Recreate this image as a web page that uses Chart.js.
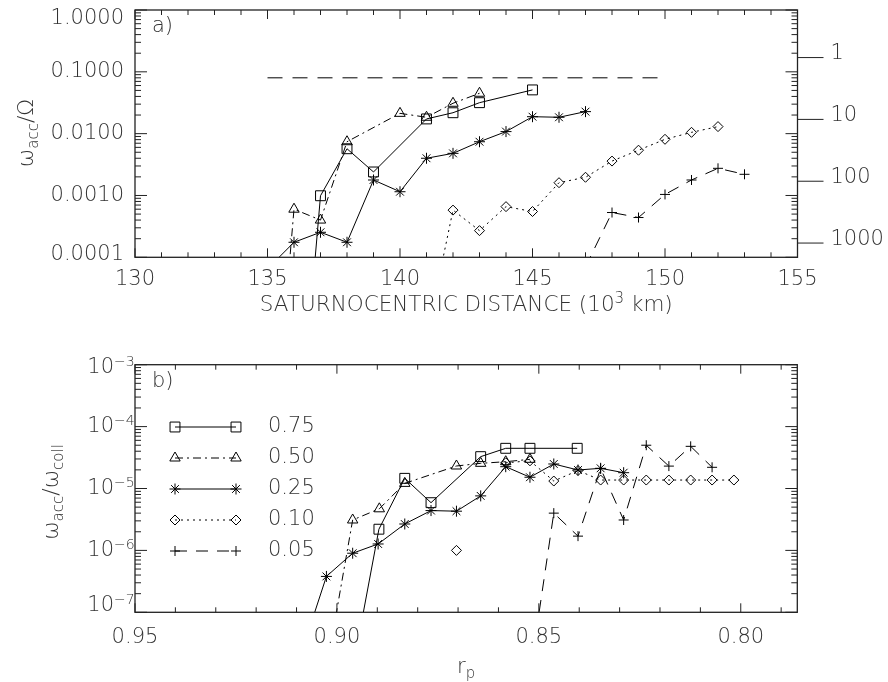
<!DOCTYPE html>
<html>
<head>
<meta charset="utf-8">
<script src="https://cdn.jsdelivr.net/npm/chart.js@4.4.0/dist/chart.umd.min.js"></script>
<style>
html, body { margin: 0; padding: 0; background: #fff; }
#wrap { position: relative; width: 888px; height: 682px; }
#topChart { position: absolute; left: 0; top: 0; }
#botChart { position: absolute; left: 0; top: 340px; }
</style>
</head>
<body>
<div id="wrap">
  <canvas id="topChart" width="888" height="340"></canvas>
  <canvas id="botChart" width="888" height="342"></canvas>
</div>
<script>
// ---- panel a) data : saturnocentric distance (10^3 km) vs w_acc / Omega
var limitDist = [135, 150];
var limitVal = [0.08, 0.08];

var dist75 = [136, 137, 138, 139, 141, 142, 143, 145];
var top75 = [1e-8, 0.00099, 0.0057, 0.0024, 0.0173, 0.0218, 0.0317, 0.051];

var dist50 = [135, 136, 137, 138, 140, 141, 142, 143];
var top50 = [5e-9, 0.0006, 0.0004, 0.0074, 0.0213, 0.0184, 0.031, 0.045];

var dist25 = [135, 136, 137, 138, 139, 140, 141, 142, 143, 144, 145, 146, 147];
var top25 = [6.5e-5, 0.000175, 0.000254, 0.000175, 0.00178, 0.00115, 0.0040, 0.0048, 0.0074, 0.0108, 0.0188, 0.0184, 0.0227];

var dist10 = [141, 142, 143, 144, 145, 146, 147, 148, 149, 150, 151, 152];
var top10 = [5e-6, 0.00058, 0.00027, 0.00066, 0.00055, 0.00161, 0.00197, 0.0036, 0.0054, 0.0081, 0.0105, 0.013];

var dist05 = [147, 148, 149, 150, 151, 152, 153];
var top05 = [7e-5, 0.00053, 0.00044, 0.00104, 0.00178, 0.00275, 0.0022];

// ---- panel b) data : r_p vs w_acc / w_coll
var rp75 = [0.8961, 0.8896, 0.8832, 0.8767, 0.8644, 0.8582, 0.8522, 0.8405];
var bot75 = [1.2e-8, 2.2e-6, 1.46e-5, 5.9e-6, 3.27e-5, 4.46e-5, 4.46e-5, 4.46e-5];

var rp50 = [0.9026, 0.8961, 0.8895, 0.8832, 0.8704, 0.8644, 0.8582, 0.8522];
var bot50 = [1.2e-8, 3.1e-6, 4.7e-6, 1.21e-5, 2.31e-5, 2.55e-5, 2.71e-5, 2.96e-5];

var rp25 = [0.9090, 0.9026, 0.8961, 0.8898, 0.8832, 0.8767, 0.8704, 0.8644, 0.8582, 0.8522, 0.8463, 0.8403, 0.8347, 0.8290];
var bot25 = [2e-8, 3.8e-7, 9e-7, 1.27e-6, 2.67e-6, 4.4e-6, 4.3e-6, 7.6e-6, 2.25e-5, 1.52e-5, 2.49e-5, 1.99e-5, 2.12e-5, 1.8e-5];

var rp10 = [0.8704, 0.8644, 0.8582, 0.8522, 0.8463, 0.8403, 0.8347, 0.8290, 0.8234, 0.8178, 0.8124, 0.8071, 0.8017];
var bot10 = [1.0e-6, null, 2.6e-5, 2.8e-5, 1.32e-5, 1.95e-5, 1.37e-5, 1.37e-5, 1.37e-5, 1.37e-5, 1.37e-5, 1.37e-5, 1.37e-5];

var rp05 = [0.8522, 0.8463, 0.8403, 0.8347, 0.8290, 0.8234, 0.8178, 0.8124, 0.8071];
var bot05 = [1e-8, 4.0e-6, 1.7e-6, 2.1e-5, 3.1e-6, 5.0e-5, 2.3e-5, 4.8e-5, 2.2e-5];

// ---- ticks / labels
var topXTicks = [130, 135, 140, 145, 150, 155];
var topYTicks = [1, 0.1, 0.01, 0.001, 0.0001];
var topYLabels = ['1.0000', '0.1000', '0.0100', '0.0010', '0.0001'];
var rightTicks = [1, 10, 100, 1000];
var botXTicks = [0.95, 0.90, 0.85, 0.80];
var botXLabels = ['0.95', '0.90', '0.85', '0.80'];
var botYExp = [-3, -4, -5, -6, -7];
var legendLabels = ['0.75', '0.50', '0.25', '0.10', '0.05'];

var FAM = '"DejaVu Sans", sans-serif';
var TXT = '#333';
var AX = '#222';
function fnt(size) { return '200 ' + size + 'px ' + FAM; }

// marker + line style of each series (same in both panels)
var styles = [
  { s: 'rect', r: 7, dash: [] },
  { s: 'triangle', r: 6, dash: [8, 4, 2, 4] },
  { s: 'star', r: 5.5, dash: [] },
  { s: 'rectRot', r: 5, dash: [2, 4] },
  { s: 'cross', r: 5, dash: [12, 9] }
];

function pairs(xs, ys) {
  return xs.map(function (x, i) { return { x: x, y: ys[i] }; });
}

function series(xs, ys, st) {
  return {
    data: pairs(xs, ys),
    showLine: true,
    borderColor: '#000',
    borderWidth: 1,
    borderDash: st.dash,
    pointStyle: st.s,
    pointRadius: st.r,
    pointHoverRadius: st.r,
    pointBorderWidth: 1,
    pointBorderColor: '#000',
    pointBackgroundColor: 'rgba(0,0,0,0)',
    spanGaps: false,
    tension: 0
  };
}

// draw several text pieces in a row (sub/superscripts), centred on cx
function drawParts(ctx, parts, cx, baseY) {
  var w = 0;
  parts.forEach(function (p) { ctx.font = fnt(p.size); w += ctx.measureText(p.t).width; });
  var x = cx - w / 2;
  ctx.textAlign = 'left';
  ctx.textBaseline = 'alphabetic';
  parts.forEach(function (p) {
    ctx.font = fnt(p.size);
    ctx.fillText(p.t, x, baseY + (p.dy || 0));
    x += ctx.measureText(p.t).width;
  });
}

function logList(lo, hi) {
  var out = [];
  for (var e = lo; e < hi; e++) {
    for (var m = 1; m < 10; m++) out.push({ v: m * Math.pow(10, e), major: m === 1 });
  }
  out.push({ v: Math.pow(10, hi), major: true });
  return out;
}

// IDL style box: ticks pointing in on all four sides
function box(ctx, a) {
  ctx.strokeStyle = AX;
  ctx.lineWidth = 1.3;
  ctx.strokeRect(a.left, a.top, a.right - a.left, a.bottom - a.top);
}
function xTick(ctx, a, px, len) {
  ctx.moveTo(px, a.bottom); ctx.lineTo(px, a.bottom - len);
  ctx.moveTo(px, a.top); ctx.lineTo(px, a.top + len);
}
function yTick(ctx, a, py, len) {
  ctx.moveTo(a.left, py); ctx.lineTo(a.left + len, py);
  ctx.moveTo(a.right, py); ctx.lineTo(a.right - len, py);
}

var topFrame = {
  id: 'topFrame',
  afterDraw: function (chart) {
    var ctx = chart.ctx, a = chart.chartArea;
    var xs = chart.scales.x, ys = chart.scales.y, y2 = chart.scales.y2;
    ctx.save();
    box(ctx, a);
    ctx.lineWidth = 1;
    ctx.beginPath();
    for (var v = 130; v <= 155; v++) {
      xTick(ctx, a, xs.getPixelForValue(v), topXTicks.indexOf(v) >= 0 ? 9 : 5);
    }
    logList(-4, 0).forEach(function (t) {
      yTick(ctx, a, ys.getPixelForValue(t.v), t.major ? 12 : 6);
    });
    // secondary axis on the right, ticks outwards
    rightTicks.forEach(function (t) {
      var py = y2.getPixelForValue(t);
      ctx.moveTo(a.right, py); ctx.lineTo(a.right + 26, py);
    });
    ctx.stroke();

    ctx.fillStyle = TXT;
    ctx.font = fnt(21);
    ctx.textBaseline = 'middle';
    ctx.textAlign = 'right';
    topYTicks.forEach(function (t, i) {
      var py = Math.min(Math.max(ys.getPixelForValue(t), a.top + 9), a.bottom - 3);
      ctx.fillText(topYLabels[i], a.left - 11, py);
    });
    ctx.textAlign = 'center';
    topXTicks.forEach(function (t) {
      ctx.fillText(String(t), xs.getPixelForValue(t), 280);
    });
    ctx.textAlign = 'left';
    rightTicks.forEach(function (t) {
      ctx.fillText(String(t), a.right + 33, y2.getPixelForValue(t) - 4);
    });
    ctx.fillText('a)', 152, 27);

    drawParts(ctx, [
      { t: 'SATURNOCENTRIC DISTANCE (10', size: 21.5 },
      { t: '3', size: 15, dy: -8 },
      { t: ' km)', size: 21.5 }
    ], (a.left + a.right) / 2, 311);

    ctx.save();
    ctx.translate(33, 133);
    ctx.rotate(-Math.PI / 2);
    drawParts(ctx, [
      { t: 'ω', size: 22 },
      { t: 'acc', size: 15, dy: 5 },
      { t: '/Ω', size: 22 }
    ], 0, 0);
    ctx.restore();
    ctx.restore();
  }
};

var botFrame = {
  id: 'botFrame',
  afterDraw: function (chart) {
    var ctx = chart.ctx, a = chart.chartArea;
    var xs = chart.scales.x, ys = chart.scales.y;
    ctx.save();
    box(ctx, a);
    ctx.lineWidth = 1;
    ctx.beginPath();
    for (var i = 0; i <= 16; i++) {
      xTick(ctx, a, xs.getPixelForValue(0.95 - i * 0.01), i % 5 === 0 ? 9 : 5);
    }
    logList(-7, -3).forEach(function (t) {
      yTick(ctx, a, ys.getPixelForValue(t.v), t.major ? 12 : 6);
    });
    ctx.stroke();

    ctx.fillStyle = TXT;
    ctx.textBaseline = 'middle';
    botYExp.forEach(function (e) {
      var py = ys.getPixelForValue(Math.pow(10, e));
      py = Math.min(Math.max(py, a.top + 3), a.bottom - 7);
      ctx.font = fnt(21);
      ctx.textAlign = 'right';
      ctx.fillText('10', a.left - 21, py);
      ctx.font = fnt(14);
      ctx.textAlign = 'left';
      ctx.fillText('−' + Math.abs(e), a.left - 21, py - 5);
    });
    ctx.font = fnt(21);
    ctx.textAlign = 'center';
    botXTicks.forEach(function (t, i) {
      ctx.fillText(botXLabels[i], xs.getPixelForValue(t), 298);
    });
    ctx.textAlign = 'left';
    ctx.fillText('b)', 152, 42);

    // legend: line with a marker at each end
    var rows = [87, 118, 149, 180, 211];
    chart.data.datasets.forEach(function (ds, i) {
      var y = rows[i];
      ctx.save();
      ctx.strokeStyle = '#000';
      ctx.lineWidth = 1;
      ctx.setLineDash(ds.borderDash);
      ctx.beginPath();
      ctx.moveTo(175, y); ctx.lineTo(236, y);
      ctx.stroke();
      ctx.setLineDash([]);
      ctx.fillStyle = 'rgba(0,0,0,0)';
      [175, 236].forEach(function (px) {
        Chart.helpers.drawPoint(ctx, { pointStyle: ds.pointStyle, radius: ds.pointRadius, rotation: 0, borderWidth: 1 }, px, y);
      });
      ctx.restore();
      ctx.fillStyle = TXT;
      ctx.font = fnt(21);
      ctx.textAlign = 'left';
      ctx.fillText(legendLabels[i], 268, y);
    });

    drawParts(ctx, [
      { t: 'r', size: 21 },
      { t: 'p', size: 15, dy: 5 }
    ], (a.left + a.right) / 2, 333);

    ctx.save();
    ctx.translate(58, 152);
    ctx.rotate(-Math.PI / 2);
    drawParts(ctx, [
      { t: 'ω', size: 22 },
      { t: 'acc', size: 15, dy: 5 },
      { t: '/ω', size: 22 },
      { t: 'coll', size: 15, dy: 5 }
    ], 0, 0);
    ctx.restore();
    ctx.restore();
  }
};

var common = {
  responsive: false,
  animation: false,
  devicePixelRatio: 1,
  events: [],
  plugins: { legend: { display: false }, tooltip: { enabled: false } }
};

var limitSet = {
  data: pairs(limitDist, limitVal),
  showLine: true,
  borderColor: '#000',
  borderWidth: 1,
  borderDash: [15, 10],
  pointRadius: 0
};

new Chart(document.getElementById('topChart'), {
  type: 'scatter',
  data: {
    datasets: [
      limitSet,
      series(dist75, top75, styles[0]),
      series(dist50, top50, styles[1]),
      series(dist25, top25, styles[2]),
      series(dist10, top10, styles[3]),
      series(dist05, top05, styles[4])
    ]
  },
  options: Object.assign({}, common, {
    layout: { padding: { left: 135, right: 90.5, top: 10, bottom: 82.7 } },
    scales: {
      x: { type: 'linear', display: false, min: 130, max: 155, bounds: 'data' },
      y: { type: 'logarithmic', display: false, min: 1e-4, max: 1, bounds: 'data' },
      y2: { type: 'logarithmic', display: false, position: 'right', reverse: true, min: 0.17, max: 1700, bounds: 'data' }
    }
  }),
  plugins: [topFrame]
});

new Chart(document.getElementById('botChart'), {
  type: 'scatter',
  data: {
    datasets: [
      series(rp75, bot75, styles[0]),
      series(rp50, bot50, styles[1]),
      series(rp25, bot25, styles[2]),
      series(rp10, bot10, styles[3]),
      series(rp05, bot05, styles[4])
    ]
  },
  options: Object.assign({}, common, {
    layout: { padding: { left: 135, right: 90.7, top: 24.7, bottom: 69.7 } },
    scales: {
      x: { type: 'linear', display: false, reverse: true, min: 0.786, max: 0.95, bounds: 'data' },
      y: { type: 'logarithmic', display: false, min: 1e-7, max: 1e-3, bounds: 'data' }
    }
  }),
  plugins: [botFrame]
});
</script>
</body>
</html>
